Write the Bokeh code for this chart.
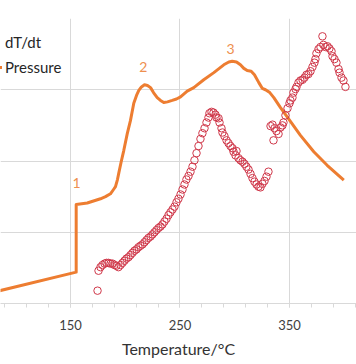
from bokeh.plotting import figure
from bokeh.models import Range1d, FixedTicker, Legend, LegendItem
from bokeh.core.properties import value
from bokeh.embed import file_html
from bokeh.resources import INLINE

# Pressure curve (temperature in °C, pressure in relative units)
p_temp = [80.0, 155.2, 155.2, 165.3, 177.4, 182.0, 186.5, 189.3, 191.1, 192.9, 194.1,
          196.3, 198.7, 201.8, 204.8, 207.8, 210.3, 212.4, 214.8, 217.6, 220.3,
          223.1, 225.8, 229.2, 232.2, 235.2, 238.6, 242.9, 246.8, 250.5, 256.6,
          262.6, 271.7, 280.9, 290.0, 294.6, 297.7, 301.6, 305.2, 308.3, 311.4,
          315.0, 318.0, 322.0, 325.1, 328.1, 332.0, 335.7, 341.8, 347.9, 360.0,
          372.2, 384.4, 399.6]
p_val = [0.16, 0.44, 1.39, 1.41, 1.47, 1.50, 1.54, 1.60, 1.64, 1.74, 1.83,
         1.99, 2.15, 2.38, 2.57, 2.81, 2.92, 2.99, 3.04, 3.07, 3.06,
         3.03, 2.96, 2.89, 2.85, 2.82, 2.83, 2.85, 2.87, 2.90, 2.98,
         3.03, 3.14, 3.24, 3.35, 3.39, 3.40, 3.39, 3.35, 3.30, 3.27,
         3.26, 3.21, 3.10, 3.02, 3.00, 2.96, 2.89, 2.75, 2.62, 2.36,
         2.13, 1.94, 1.73]

# dT/dt scatter (temperature in °C, dT/dt in relative units)
d_temp = [174.7, 175.6, 177.4, 179.2, 181.1, 182.9, 184.7, 186.5, 188.4, 190.2, 192.0,
          193.8, 195.7, 197.5, 199.3, 201.1, 203.0, 204.8, 206.6, 208.4, 210.3,
          212.1, 213.9, 215.8, 217.6, 219.4, 221.2, 223.1, 224.9, 226.7, 228.5,
          230.4, 232.2, 234.0, 235.8, 237.7, 239.5, 241.3, 243.2, 245.0, 246.8,
          248.6, 250.5, 252.3, 254.1, 255.9, 257.8, 259.6, 261.4, 263.2, 265.1,
          266.9, 268.7, 270.5, 272.4, 274.2, 276.0, 276.9, 278.8, 280.6, 282.4,
          283.3, 285.2, 286.1, 287.9, 288.8, 290.6, 292.5, 294.3, 296.1, 297.9,
          298.9, 300.7, 301.6, 303.4, 305.2, 307.1, 308.9, 310.7, 312.6, 314.4,
          316.2, 318.0, 319.9, 321.7, 323.5, 325.3, 327.2, 329.0, 330.8,
          332.7, 334.5, 336.3, 335.4, 338.1, 340.0, 341.8, 343.6, 344.5, 346.3,
          348.2, 350.0, 350.9, 352.7, 353.6, 355.5, 356.4, 358.2, 360.0, 361.9,
          363.7, 365.5, 367.3, 369.2, 371.0, 372.8, 373.7, 374.6, 376.5, 378.3,
          380.1, 381.0, 382.9, 384.7, 386.5, 388.4, 389.3, 391.1, 392.9, 394.8,
          395.7, 397.5, 399.3, 401.1]
d_val = [0.18, 0.46, 0.51, 0.54, 0.56, 0.57, 0.57, 0.56, 0.56, 0.54, 0.53,
         0.51, 0.54, 0.57, 0.60, 0.63, 0.65, 0.68, 0.71, 0.74, 0.76,
         0.79, 0.81, 0.83, 0.86, 0.89, 0.92, 0.94, 0.97, 1.00, 1.03,
         1.06, 1.08, 1.11, 1.15, 1.19, 1.24, 1.28, 1.32, 1.36, 1.42,
         1.47, 1.53, 1.60, 1.67, 1.74, 1.79, 1.85, 1.92, 2.01, 2.11,
         2.21, 2.31, 2.39, 2.46, 2.54, 2.61, 2.67, 2.69, 2.68, 2.65,
         2.61, 2.60, 2.54, 2.46, 2.40, 2.35, 2.29, 2.25, 2.21, 2.18,
         2.13, 2.08, 2.14, 2.04, 2.01, 1.99, 1.96, 1.92, 1.88, 1.82,
         1.76, 1.71, 1.67, 1.64, 1.63, 1.68, 1.72, 1.78, 1.85,
         2.49, 2.51, 2.46, 2.29, 2.42, 2.38, 2.47, 2.50, 2.54, 2.64,
         2.74, 2.81, 2.85, 2.89, 2.96, 3.01, 3.04, 3.10, 3.13, 3.14,
         3.17, 3.21, 3.22, 3.26, 3.32, 3.38, 3.43, 3.51, 3.57, 3.60,
         3.75, 3.63, 3.60, 3.61, 3.58, 3.54, 3.47, 3.43, 3.38, 3.29,
         3.24, 3.17, 3.13, 3.04]

# Stage labels on the pressure curve
stage_text = ["1", "2", "3"]
stage_temp = [155.5, 216.4, 296.1]
stage_val = [1.69, 3.32, 3.57]

x_ticks = [150, 250, 350]
x_minor = [90, 110, 130, 150, 170, 190, 210, 230, 250, 270, 290, 310, 330, 350, 370, 390, 410]

FONT = "Lato"
ORANGE = "#ED7D31"

p = figure(width=356, height=364, output_backend="svg", toolbar_location=None,
           x_range=Range1d(86.08, 411.2), y_range=Range1d(0, 4),
           y_axis_location=None,
           min_border_left=0, min_border_right=0, min_border_top=18, min_border_bottom=61)
p.outline_line_color = None
p.background_fill_color = "white"
p.border_fill_color = "white"

xa = p.xaxis[0]
xa.ticker = FixedTicker(ticks=x_ticks, minor_ticks=x_minor)
xa.axis_label = "Temperature/°C"
xa.axis_label_text_font = FONT
xa.axis_label_text_font_size = "16px"
xa.axis_label_text_font_style = "normal"
xa.axis_label_text_color = "#333333"
xa.axis_label_standoff = 6
xa.major_label_text_font = FONT
xa.major_label_text_font_size = "13px"
xa.major_label_text_color = "#404040"
xa.major_label_standoff = 12
xa.axis_line_color = "#d9d9d9"
xa.major_tick_line_color = "#d9d9d9"
xa.minor_tick_line_color = "#d9d9d9"
xa.major_tick_in = 0
xa.major_tick_out = 4
xa.minor_tick_in = 0
xa.minor_tick_out = 4

p.xgrid.grid_line_color = "#d9d9d9"
p.ygrid.grid_line_color = "#d9d9d9"
p.ygrid.ticker = FixedTicker(ticks=[0, 1, 2, 3, 4])

r_pres = p.line(p_temp, p_val, line_color=ORANGE, line_width=3, line_join="round")
r_dtdt = p.scatter(d_temp, d_val, marker="circle", size=7.5, fill_color=None,
                   line_color="#D0384A", line_width=1)

p.text(stage_temp, stage_val, text=stage_text, text_font=value(FONT),
       text_font_size="14px", text_color="#EE8F4F",
       text_align="center", text_baseline="middle")

legend = Legend(items=[LegendItem(label="dT/dt", renderers=[r_dtdt]),
                       LegendItem(label="Pressure", renderers=[r_pres])],
                location=(-18, 226), padding=0, margin=0, spacing=5,
                glyph_width=20, glyph_height=20, label_height=20,
                label_standoff=3,
                label_text_font=FONT, label_text_font_size="15px",
                label_text_color="#262626",
                border_line_color=None, background_fill_alpha=0)
p.add_layout(legend)

open("out.html", "w").write(file_html(p, INLINE))
